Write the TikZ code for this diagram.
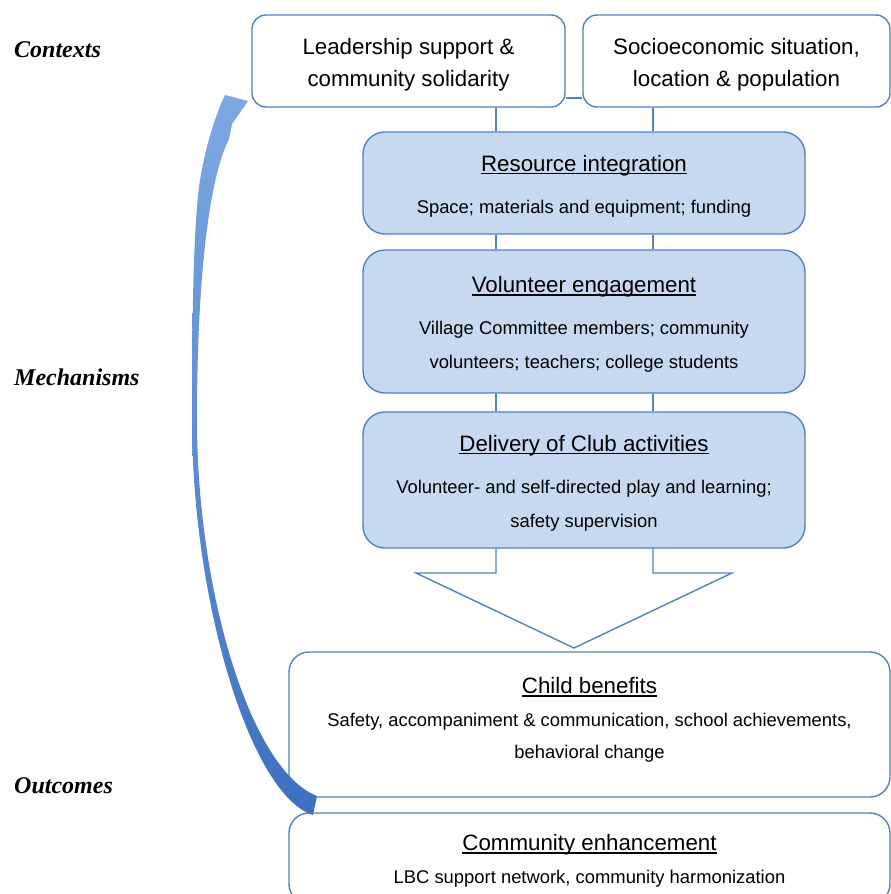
\documentclass[tikz,border=0pt]{standalone}
\usepackage{fontspec}
\setmainfont{Liberation Sans}
\newfontfamily\stagefont{Liberation Serif}
\usetikzlibrary{arrows}
\definecolor{frameblue}{RGB}{79,129,196}
\definecolor{paleblue}{RGB}{198,217,240}
\definecolor{arrowlight}{RGB}{125,168,226}
\definecolor{arrowdark}{RGB}{62,112,192}

\newcommand{\bigtext}{\fontsize{22.3}{32}\selectfont}
\newcommand{\smalltext}{\fontsize{18.4}{34}\selectfont}
\newcommand{\undertitle}[1]{\setbox0\hbox{\bigtext #1}\rlap{\rule[-3pt]{\wd0}{1.4pt}}\box0}
% struts to move a text block down (tall first line) or up (deep last line)
\newcommand{\toppad}[1]{\rule{0pt}{#1}}
\newcommand{\bottompad}[1]{\rule[-#1]{0pt}{0pt}}

\begin{document}
\begin{tikzpicture}[
    x=1pt, y=-1pt,
    context/.style={draw=frameblue, line width=1.4pt, fill=white, rounded corners=14pt,
        minimum height=92pt, align=center, font=\bigtext},
    mechanism/.style={draw=frameblue, line width=1.4pt, fill=paleblue, rounded corners=22pt,
        minimum width=442pt, align=center, font=\smalltext},
    outcome/.style={draw=frameblue, line width=1.4pt, fill=white, rounded corners=20pt,
        minimum width=601pt, align=center, font=\fontsize{18.4}{32.5}\selectfont},
    link/.style={draw=frameblue, line width=1.4pt},
    stage/.style={anchor=base west, inner sep=0pt,
        font=\stagefont\fontsize{24}{28}\selectfont\bfseries\itshape}]

    \clip (0,0) rectangle (891,894);
    \useasboundingbox (0,0) rectangle (891,894);

    \coordinate (c1) at (496,0);
    \coordinate (c2) at (653,0);
    \coordinate (c3) at (0,98);

    \node[stage] (ctx) at (14,57) {Contexts};
    \node[stage] (mech) at (14,385) {Mechanisms};
    \node[stage] (out) at (14,793) {Outcomes};

    % contexts
    \node[context, minimum width=313pt] (lead) at (408.5,61)
        {\toppad{24pt}Leadership support \&\\community solidarity};
    \node[context, minimum width=307pt] (socio) at (736.5,61)
        {\toppad{24pt}Socioeconomic situation,\\location \& population};
    \draw[link] (lead.east |- c3) -- (socio.west |- c3);

    % mechanisms
    \node[mechanism, minimum height=102pt] (res) at (584,183)
        {\toppad{22pt}\undertitle{Resource integration}\\[8pt]Space; materials and equipment; funding};
    \node[mechanism, minimum height=143pt] (vol) at (584,321.5)
        {\toppad{22pt}\undertitle{Volunteer engagement}\\[8pt]Village Committee members; community\\volunteers; teachers; college students};
    \node[mechanism, minimum height=136pt] (deliv) at (584,480)
        {\toppad{22pt}\undertitle{Delivery of Club activities}\\[8pt]Volunteer- and self-directed play and learning;\\safety supervision};

    \draw[link] (lead.south -| c1) -- (res.north -| c1);
    \draw[link] (socio.south -| c2) -- (res.north -| c2);
    \draw[link] (res.south -| c1) -- (vol.north -| c1);
    \draw[link] (res.south -| c2) -- (vol.north -| c2);
    \draw[link] (vol.south -| c1) -- (deliv.north -| c1);
    \draw[link] (vol.south -| c2) -- (deliv.north -| c2);

    % big arrow down
    \draw[link, line join=miter] (deliv.south -| c1) -- (496,573) -- (416,573) -- (574,648)
        -- (732,573) -- (653,573) -- (deliv.south -| c2);

    % outcomes
    \node[outcome, minimum height=145pt] (child) at (589.5,724.5)
        {\undertitle{Child benefits}\\Safety, accompaniment \& communication, school achievements,\\behavioral change\bottompad{13pt}};
    \node[outcome, minimum height=91pt] (comm) at (589.5,858.5)
        {\toppad{20.5pt}\undertitle{Community enhancement}\\LBC support network, community harmonization};

    % feedback arrow
    \shade[top color=arrowlight, bottom color=arrowdark]
        (313,815) .. controls (250,795) and (192,600) .. (192,420)
        .. controls (192,300) and (194,220) .. (200,180)
        .. controls (205,150) and (214,118) .. (225,95)
        -- (248,101) -- (232,124) -- (229,139)
        .. controls (212,172) and (197,260) .. (197,420)
        .. controls (197,590) and (250,770) .. (317,796) -- cycle;

\end{tikzpicture}
\end{document}
